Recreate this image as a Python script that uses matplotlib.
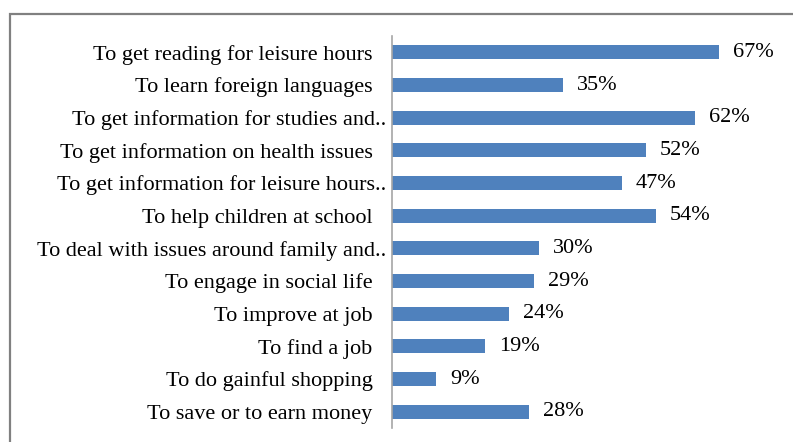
import matplotlib
matplotlib.use("Agg")
import matplotlib.pyplot as plt
import matplotlib.transforms as mtransforms
from matplotlib.patches import Rectangle

categories = [
    "To get reading for leisure hours",
    "To learn foreign languages",
    "To get information for studies and..",
    "To get information on health issues",
    "To get information for leisure hours..",
    "To help children at school",
    "To deal with issues around family and..",
    "To engage in social life",
    "To improve at job",
    "To find a job",
    "To do gainful shopping",
    "To save or to earn money",
]
values = [67, 35, 62, 52, 47, 54, 30, 29, 24, 19, 9, 28]

fig = plt.figure(figsize=(7.93, 4.42), dpi=100)
fig.patches.append(Rectangle((10/793, -0.05), 1.0, 1 - 14/442 + 0.05, transform=fig.transFigure,
                             fill=False, edgecolor="#808080", linewidth=1.6))
ax = fig.add_axes([392/793, 1 - 428/442, (783 - 392)/793, (428 - 36)/442])

ypos = list(range(len(categories)))
ax.barh(ypos, values, height=0.42, color="#4F81BD")
ax.set_ylim(len(categories) - 0.5, -0.5)
ax.set_xlim(0, 80)
ax.set_yticks(ypos)
ax.set_yticklabels(categories, fontfamily="Liberation Serif", fontsize=16)
ax.tick_params(axis="y", length=0, pad=4)
ax.set_xticks([])
for s in ["top", "right", "bottom"]:
    ax.spines[s].set_visible(False)
ax.spines["left"].set_color("#A6A6A6")
ax.spines["left"].set_linewidth(1.2)

# untruncated labels sit a little further from the axis (trailing space in original)
shift = mtransforms.ScaledTranslation(-14 / 100, 0, fig.dpi_scale_trans)
for lbl in ax.get_yticklabels():
    if not lbl.get_text().endswith(".."):
        lbl.set_transform(lbl.get_transform() + shift)

for y, v in zip(ypos, values):
    ax.annotate(f"{v}%", (v, y), xytext=(10, 0), textcoords="offset points",
                va="center", ha="left", fontfamily="Liberation Serif", fontsize=16)

fig.savefig("out.png", dpi=100)
